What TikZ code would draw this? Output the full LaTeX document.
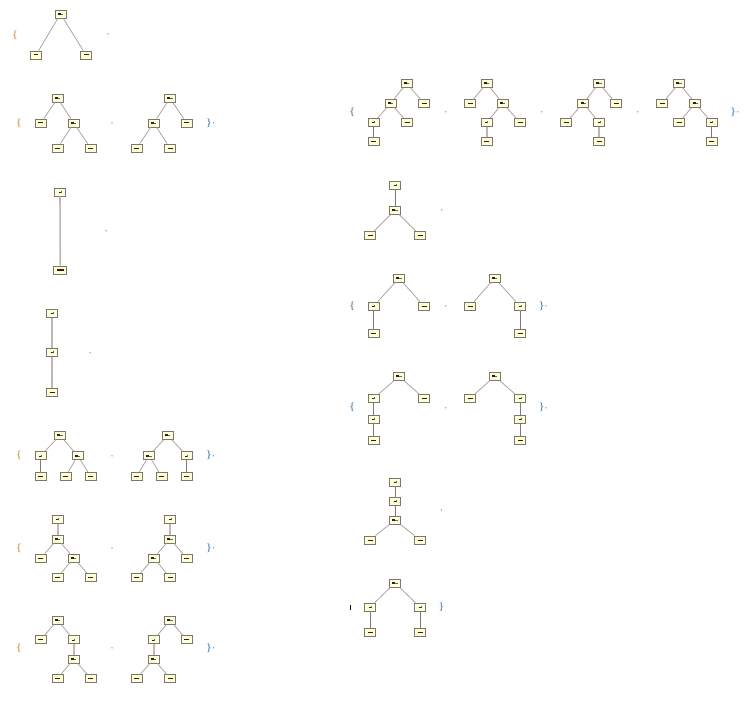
\documentclass[tikz,border=0pt]{standalone}
\usepackage{xcolor}
\definecolor{boxfill}{RGB}{255,255,214}
\definecolor{boxline}{RGB}{120,120,112}
\definecolor{edgepink}{RGB}{178,160,160}
\definecolor{edgedark}{RGB}{138,118,118}
\definecolor{edgelight}{RGB}{196,180,180}
\definecolor{braceorange}{RGB}{214,140,40}
\definecolor{braceblue}{RGB}{60,120,200}
\definecolor{markdark}{RGB}{70,20,20}
\definecolor{markblue}{RGB}{40,120,170}
\tikzset{
  tnode/.style={
    % The shape:
    rectangle,
    % The size:
    minimum width=11pt, minimum height=8pt, inner sep=0pt,
    % The border:
    line width=0.9pt,
    draw=boxline,
    % The filling:
    fill=boxfill,
  },
  widenode/.style={tnode, minimum width=13pt},
  branch/.style={draw=edgepink, line width=0.8pt},
  stem/.style={draw=edgedark, line width=0.9pt},
  fatstem/.style={draw=edgelight, line width=1.6pt},
  lbrace/.style={font=\fontsize{9}{9}\selectfont\bfseries, text=braceorange, inner sep=0pt},
  rbrace/.style={font=\fontsize{9}{9}\selectfont\bfseries, text=braceblue, inner sep=0pt},
  sep/.style={font=\fontsize{6}{6}\selectfont\bfseries, text=braceblue, inner sep=0pt},
}
% marks inside the boxes
\newcommand{\leafmark}{{\color{markdark}\rule{5pt}{1pt}}}
\newcommand{\binmark}{{\color{markdark}\rule[-0.5pt]{3pt}{2pt}}{\color{markblue}\rule[-0.5pt]{2.5pt}{1pt}}}
\newcommand{\unmark}{{\color{markdark}\rule{2pt}{1pt}}{\color{markblue}\rule{1pt}{2pt}}}

\begin{document}
\begin{tikzpicture}[x=1pt, y=-1pt]
  \useasboundingbox (0,0) rectangle (752,706);

  % ---- left column ----

  % row 1
  \node (b1l) [lbrace] at (15,35) {\{};
  \node (t1r) [tnode] at (60.5,14) {\binmark};
  \node (t1a) [tnode] at (36,55) {\leafmark};
  \node (t1b) [tnode] at (86,55) {\leafmark};
  \draw [branch] (t1r) -- (t1a);
  \draw [branch] (t1r) -- (t1b);
  \node (c1) [sep] at (108,35) {,};

  % row 2
  \node (b2l) [lbrace] at (19,123) {\{};
  \node (t2ar) [tnode] at (57.7,98.3) {\binmark};
  \node (t2aa) [tnode] at (40.7,123) {\leafmark};
  \node (t2ab) [tnode] at (73.7,123) {\binmark};
  \node (t2ab1) [tnode] at (57.7,148) {\leafmark};
  \node (t2ab2) [tnode] at (90.7,148) {\leafmark};
  \draw [branch] (t2ar) -- (t2aa);
  \draw [branch] (t2ar) -- (t2ab);
  \draw [branch] (t2ab) -- (t2ab1);
  \draw [branch] (t2ab) -- (t2ab2);
  \node (c2a) [sep] at (112,123.5) {,};
  \node (t2br) [tnode] at (170,98.3) {\binmark};
  \node (t2ba) [tnode] at (153.7,123) {\binmark};
  \node (t2bb) [tnode] at (186.7,123) {\leafmark};
  \node (t2ba1) [tnode] at (136.7,148) {\leafmark};
  \node (t2ba2) [tnode] at (170,148) {\leafmark};
  \draw [branch] (t2br) -- (t2ba);
  \draw [branch] (t2br) -- (t2bb);
  \draw [branch] (t2ba) -- (t2ba1);
  \draw [branch] (t2ba) -- (t2ba2);
  \node (b2r) [rbrace] at (209,123) {\}};
  \node (c2b) [sep] at (213.5,123.5) {,};

  % row 3
  \node (t3t) [tnode] at (60,192) {\unmark};
  \node (t3b) [widenode] at (60.3,270) {\color{markdark}\rule[-0.5pt]{7pt}{2pt}};
  \draw [fatstem] (t3t) -- (t3b);
  \node (c3) [sep] at (106,232) {,};

  % row 4
  \node (t4t) [tnode] at (52,313.3) {\unmark};
  \node (t4m) [tnode] at (52,352.3) {\unmark};
  \node (t4b) [tnode] at (52,392.3) {\leafmark};
  \draw [fatstem] (t4t) -- (t4m);
  \draw [fatstem] (t4m) -- (t4b);
  \node (c4) [sep] at (90,353.5) {,};

  % row 5
  \node (b5l) [lbrace] at (19,455.7) {\{};
  \node (t5ar) [tnode] at (60,435.3) {\binmark};
  \node (t5aa) [tnode] at (40.7,455.7) {\unmark};
  \node (t5ab) [tnode] at (77.7,455.7) {\binmark};
  \node (t5aa1) [tnode] at (40.7,476.3) {\leafmark};
  \node (t5ab1) [tnode] at (65.7,476.3) {\leafmark};
  \node (t5ab2) [tnode] at (90.7,476.3) {\leafmark};
  \draw [branch] (t5ar) -- (t5aa);
  \draw [branch] (t5ar) -- (t5ab);
  \draw [stem] (t5aa) -- (t5aa1);
  \draw [branch] (t5ab) -- (t5ab1);
  \draw [branch] (t5ab) -- (t5ab2);
  \node (c5a) [sep] at (112,456.5) {,};
  \node (t5br) [tnode] at (167.7,435.3) {\binmark};
  \node (t5ba) [tnode] at (149,455.7) {\binmark};
  \node (t5bb) [tnode] at (186.7,455.7) {\unmark};
  \node (t5ba1) [tnode] at (136.7,476.3) {\leafmark};
  \node (t5ba2) [tnode] at (161.7,476.3) {\leafmark};
  \node (t5bb1) [tnode] at (186.7,476.3) {\leafmark};
  \draw [branch] (t5br) -- (t5ba);
  \draw [branch] (t5br) -- (t5bb);
  \draw [branch] (t5ba) -- (t5ba1);
  \draw [branch] (t5ba) -- (t5ba2);
  \draw [stem] (t5bb) -- (t5bb1);
  \node (b5r) [rbrace] at (209,455.7) {\}};
  \node (c5b) [sep] at (213.5,456.5) {,};

  % row 6
  \node (b6l) [lbrace] at (19,548) {\{};
  \node (t6at) [tnode] at (57.7,519.3) {\unmark};
  \node (t6ar) [tnode] at (57.7,539) {\binmark};
  \node (t6aa) [tnode] at (40.7,558) {\leafmark};
  \node (t6ab) [tnode] at (73.7,558) {\binmark};
  \node (t6ab1) [tnode] at (57.7,577.3) {\leafmark};
  \node (t6ab2) [tnode] at (90.7,577.3) {\leafmark};
  \draw [fatstem] (t6at) -- (t6ar);
  \draw [branch] (t6ar) -- (t6aa);
  \draw [branch] (t6ar) -- (t6ab);
  \draw [branch] (t6ab) -- (t6ab1);
  \draw [branch] (t6ab) -- (t6ab2);
  \node (c6a) [sep] at (112,548.5) {,};
  \node (t6bt) [tnode] at (170,519.3) {\unmark};
  \node (t6br) [tnode] at (170,539) {\binmark};
  \node (t6ba) [tnode] at (153.7,558) {\binmark};
  \node (t6bb) [tnode] at (186.7,558) {\leafmark};
  \node (t6ba1) [tnode] at (136.7,577.3) {\leafmark};
  \node (t6ba2) [tnode] at (170,577.3) {\leafmark};
  \draw [fatstem] (t6bt) -- (t6br);
  \draw [branch] (t6br) -- (t6ba);
  \draw [branch] (t6br) -- (t6bb);
  \draw [branch] (t6ba) -- (t6ba1);
  \draw [branch] (t6ba) -- (t6ba2);
  \node (b6r) [rbrace] at (209,548) {\}};
  \node (c6b) [sep] at (213.5,548.5) {,};

  % row 7
  \node (b7l) [lbrace] at (19,648.3) {\{};
  \node (t7ar) [tnode] at (57.7,620.3) {\binmark};
  \node (t7aa) [tnode] at (40.7,639.7) {\leafmark};
  \node (t7ab) [tnode] at (73.7,639.7) {\unmark};
  \node (t7ab1) [tnode] at (73.7,659) {\binmark};
  \node (t7ab11) [tnode] at (57.7,678.3) {\leafmark};
  \node (t7ab12) [tnode] at (90.7,678.3) {\leafmark};
  \draw [branch] (t7ar) -- (t7aa);
  \draw [branch] (t7ar) -- (t7ab);
  \draw [fatstem] (t7ab) -- (t7ab1);
  \draw [branch] (t7ab1) -- (t7ab11);
  \draw [branch] (t7ab1) -- (t7ab12);
  \node (c7a) [sep] at (112,649) {,};
  \node (t7br) [tnode] at (170,620.3) {\binmark};
  \node (t7ba) [tnode] at (153.7,639.7) {\unmark};
  \node (t7bb) [tnode] at (186.7,639.7) {\leafmark};
  \node (t7ba1) [tnode] at (153.7,659) {\binmark};
  \node (t7ba11) [tnode] at (136.7,678.3) {\leafmark};
  \node (t7ba12) [tnode] at (170,678.3) {\leafmark};
  \draw [branch] (t7br) -- (t7ba);
  \draw [branch] (t7br) -- (t7bb);
  \draw [fatstem] (t7ba) -- (t7ba1);
  \draw [branch] (t7ba1) -- (t7ba11);
  \draw [branch] (t7ba1) -- (t7ba12);
  \node (b7r) [rbrace] at (209,648.3) {\}};
  \node (c7b) [sep] at (213.5,649) {,};

  % ---- right column ----

  % row 8
  \node (b8l) [rbrace] at (352.3,112) {\{};
  \node (t8ar) [tnode] at (406.7,83.3) {\binmark};
  \node (t8aa) [tnode] at (390.7,103.3) {\binmark};
  \node (t8ab) [tnode] at (424,103.3) {\leafmark};
  \node (t8aa1) [tnode] at (373.7,122.3) {\unmark};
  \node (t8aa2) [tnode] at (407.3,122.3) {\leafmark};
  \node (t8aa11) [tnode] at (373.7,141.7) {\leafmark};
  \draw [branch] (t8ar) -- (t8aa);
  \draw [branch] (t8ar) -- (t8ab);
  \draw [branch] (t8aa) -- (t8aa1);
  \draw [branch] (t8aa) -- (t8aa2);
  \draw [stem] (t8aa1) -- (t8aa11);
  \node (c8a) [sep] at (445.7,112.5) {,};
  \node (t8br) [tnode] at (486.7,83.3) {\binmark};
  \node (t8ba) [tnode] at (470,103.3) {\leafmark};
  \node (t8bb) [tnode] at (502.7,103.3) {\binmark};
  \node (t8bb1) [tnode] at (486.7,122.3) {\unmark};
  \node (t8bb2) [tnode] at (520,122.3) {\leafmark};
  \node (t8bb11) [tnode] at (486.7,141.7) {\leafmark};
  \draw [branch] (t8br) -- (t8ba);
  \draw [branch] (t8br) -- (t8bb);
  \draw [branch] (t8bb) -- (t8bb1);
  \draw [branch] (t8bb) -- (t8bb2);
  \draw [fatstem] (t8bb1) -- (t8bb11);
  \node (c8b) [sep] at (541.7,112.5) {,};
  \node (t8cr) [tnode] at (599,83.3) {\binmark};
  \node (t8ca) [tnode] at (583.3,103.3) {\binmark};
  \node (t8cb) [tnode] at (616,103.3) {\leafmark};
  \node (t8ca1) [tnode] at (566,122.3) {\leafmark};
  \node (t8ca2) [tnode] at (599,122.3) {\unmark};
  \node (t8ca21) [tnode] at (599,141.7) {\leafmark};
  \draw [branch] (t8cr) -- (t8ca);
  \draw [branch] (t8cr) -- (t8cb);
  \draw [branch] (t8ca) -- (t8ca1);
  \draw [branch] (t8ca) -- (t8ca2);
  \draw [fatstem] (t8ca2) -- (t8ca21);
  \node (c8c) [sep] at (637.7,112.5) {,};
  \node (t8dr) [tnode] at (679,83.3) {\binmark};
  \node (t8da) [tnode] at (662.3,103.3) {\leafmark};
  \node (t8db) [tnode] at (695.3,103.3) {\binmark};
  \node (t8db1) [tnode] at (679,122.3) {\leafmark};
  \node (t8db2) [tnode] at (711.7,122.3) {\unmark};
  \node (t8db21) [tnode] at (711.7,141.7) {\leafmark};
  \draw [branch] (t8dr) -- (t8da);
  \draw [branch] (t8dr) -- (t8db);
  \draw [branch] (t8db) -- (t8db1);
  \draw [branch] (t8db) -- (t8db2);
  \draw [stem] (t8db2) -- (t8db21);
  \node (b8r) [rbrace] at (733.3,112.3) {\}};
  \node (c8d) [sep] at (737.8,112.8) {,};

  % row 9
  \node (t9t) [tnode] at (395,185.3) {\unmark};
  \node (t9r) [tnode] at (395,210.3) {\binmark};
  \node (t9a) [tnode] at (370,235.3) {\leafmark};
  \node (t9b) [tnode] at (420,235.3) {\leafmark};
  \draw [stem] (t9t) -- (t9r);
  \draw [branch] (t9r) -- (t9a);
  \draw [branch] (t9r) -- (t9b);
  \node (c9) [sep] at (441.7,211) {,};

  % row 10
  \node (b10l) [rbrace] at (352.3,306) {\{};
  \node (t10ar) [tnode] at (399,278.3) {\binmark};
  \node (t10aa) [tnode] at (373.7,306) {\unmark};
  \node (t10ab) [tnode] at (424,306) {\leafmark};
  \node (t10aa1) [tnode] at (373.7,333) {\leafmark};
  \draw [branch] (t10ar) -- (t10aa);
  \draw [branch] (t10ar) -- (t10ab);
  \draw [stem] (t10aa) -- (t10aa1);
  \node (c10a) [sep] at (445.7,306.8) {,};
  \node (t10br) [tnode] at (494.7,278.3) {\binmark};
  \node (t10ba) [tnode] at (470,306) {\leafmark};
  \node (t10bb) [tnode] at (520,306) {\unmark};
  \node (t10bb1) [tnode] at (520,333) {\leafmark};
  \draw [branch] (t10br) -- (t10ba);
  \draw [branch] (t10br) -- (t10bb);
  \draw [stem] (t10bb) -- (t10bb1);
  \node (b10r) [rbrace] at (541.7,306) {\}};
  \node (c10b) [sep] at (546,306.8) {,};

  % row 11
  \node (b11l) [rbrace] at (352.3,407.7) {\{};
  \node (t11ar) [tnode] at (399,376.3) {\binmark};
  \node (t11aa) [tnode] at (373.7,398.3) {\unmark};
  \node (t11ab) [tnode] at (424,398.3) {\leafmark};
  \node (t11aa1) [tnode] at (373.7,419.3) {\unmark};
  \node (t11aa11) [tnode] at (373.7,440.3) {\leafmark};
  \draw [branch] (t11ar) -- (t11aa);
  \draw [branch] (t11ar) -- (t11ab);
  \draw [stem] (t11aa) -- (t11aa1);
  \draw [stem] (t11aa1) -- (t11aa11);
  \node (c11a) [sep] at (445.7,408.7) {,};
  \node (t11br) [tnode] at (494.7,376.3) {\binmark};
  \node (t11ba) [tnode] at (470,398.3) {\leafmark};
  \node (t11bb) [tnode] at (520,398.3) {\unmark};
  \node (t11bb1) [tnode] at (520,419.3) {\unmark};
  \node (t11bb11) [tnode] at (520,440.3) {\leafmark};
  \draw [branch] (t11br) -- (t11ba);
  \draw [branch] (t11br) -- (t11bb);
  \draw [stem] (t11bb) -- (t11bb1);
  \draw [stem] (t11bb1) -- (t11bb11);
  \node (b11r) [rbrace] at (541.7,407.7) {\}};
  \node (c11b) [sep] at (546,408.7) {,};

  % row 12
  \node (t12t) [tnode] at (395,482) {\unmark};
  \node (t12m) [tnode] at (395,501) {\unmark};
  \node (t12r) [tnode] at (395,520) {\binmark};
  \node (t12a) [tnode] at (370,540) {\leafmark};
  \node (t12b) [tnode] at (420,540) {\leafmark};
  \draw [stem] (t12t) -- (t12m);
  \draw [stem] (t12m) -- (t12r);
  \draw [branch] (t12r) -- (t12a);
  \draw [branch] (t12r) -- (t12b);
  \node (c12) [sep] at (441.5,511) {,};

  % row 13
  \node (b13l) [inner sep=0pt] at (350.5,607) {\rule{1pt}{5pt}};
  \node (t13r) [tnode] at (395,583) {\binmark};
  \node (t13a) [tnode] at (370,607) {\unmark};
  \node (t13b) [tnode] at (420,607) {\unmark};
  \node (t13a1) [tnode] at (370,632) {\leafmark};
  \node (t13b1) [tnode] at (420,632) {\leafmark};
  \draw [branch] (t13r) -- (t13a);
  \draw [branch] (t13r) -- (t13b);
  \draw [stem] (t13a) -- (t13a1);
  \draw [stem] (t13b) -- (t13b1);
  \node (b13r) [rbrace] at (441.5,607) {\}};

\end{tikzpicture}
\end{document}
